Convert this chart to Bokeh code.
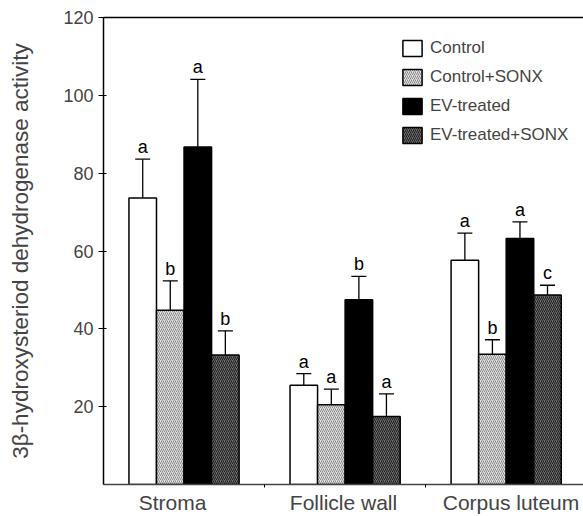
from bokeh.plotting import figure
from bokeh.models import (ColumnDataSource, FixedTicker, LinearAxis, Whisker, TeeHead,
                          Legend, LegendItem, Range1d)
from bokeh.core.properties import value
from bokeh.embed import file_html
from bokeh.resources import INLINE

groups = ["Stroma", "Follicle wall", "Corpus luteum"]
series = ["Control", "Control+SONX", "EV-treated", "EV-treated+SONX"]

control = [73.6, 25.5, 57.6]
control_sonx = [44.8, 20.5, 33.5]
ev_treated = [86.7, 47.5, 63.2]
ev_treated_sonx = [33.3, 17.5, 48.7]

control_err = [10.0, 3.0, 7.0]
control_sonx_err = [7.5, 4.0, 3.7]
ev_treated_err = [17.4, 6.0, 4.3]
ev_treated_sonx_err = [6.2, 5.8, 2.5]

control_sig = ["a", "a", "a"]
control_sonx_sig = ["b", "a", "b"]
ev_treated_sig = ["a", "b", "a"]
ev_treated_sonx_sig = ["b", "a", "c"]

y_ticks = [20, 40, 60, 80, 100, 120]

FONT = "Liberation Sans"

means = [control, control_sonx, ev_treated, ev_treated_sonx]
errs = [control_err, control_sonx_err, ev_treated_err, ev_treated_sonx_err]
sigs = [control_sig, control_sonx_sig, ev_treated_sig, ev_treated_sonx_sig]
styles = [
    dict(fill_color="white", hatch_pattern=None, hatch_color=None),
    dict(fill_color="#e2e2e2", hatch_pattern="/", hatch_color="#8a8a8a"),
    dict(fill_color="black", hatch_pattern=None, hatch_color=None),
    dict(fill_color="#6a6a6a", hatch_pattern="/", hatch_color="#1e1e1e"),
]

p = figure(width=583, height=516, output_backend="svg", toolbar_location=None,
           x_range=Range1d(0.5, 3.48), y_range=Range1d(0, 120),
           min_border_left=103, min_border_right=0, min_border_top=17, min_border_bottom=30)
p.outline_line_color = None
p.grid.visible = False
p.background_fill_color = "white"

w = 0.171
centers = [1, 2, 3]
items = []
for i, name in enumerate(series):
    off = (i - 1.5) * w
    xs = [c + off for c in centers]
    uppers = [m + e for m, e in zip(means[i], errs[i])]
    src = ColumnDataSource(dict(x=xs, top=means[i], upper=uppers, sig=sigs[i]))
    st = styles[i]
    kw = dict(fill_color=st["fill_color"], line_color="black", line_width=1.5)
    if st["hatch_pattern"]:
        kw.update(hatch_pattern=st["hatch_pattern"], hatch_color=st["hatch_color"],
                  hatch_scale=4, hatch_weight=1)
    wh = Whisker(source=src, base="x", lower="top", upper="upper", line_width=1.3,
                 line_color="black",
                 upper_head=TeeHead(size=15, line_width=1.3, line_color="black"),
                 lower_head=None)
    p.add_layout(wh)
    r = p.vbar(x="x", top="top", width=w, bottom=0, source=src, **kw)
    p.text(x="x", y="upper", text="sig", source=src, text_align="center",
           text_baseline="bottom", y_offset=-2, text_font=value(FONT),
           text_font_size="18px", text_color="black")
    items.append(LegendItem(label=name, renderers=[r]))

legend = Legend(items=items, location=(297, 339), padding=0, margin=0,
                glyph_width=24, glyph_height=20, label_height=20, spacing=9,
                label_standoff=6,
                label_text_font=FONT, label_text_font_size="17px",
                border_line_color=None, background_fill_alpha=0)
p.add_layout(legend)

# axes
p.yaxis.ticker = FixedTicker(ticks=y_ticks, minor_ticks=[])
p.yaxis.axis_label = "3β-hydroxysteriod dehydrogenase activity"
p.yaxis.axis_label_text_font = FONT
p.yaxis.axis_label_text_font_style = "normal"
p.yaxis.axis_label_text_font_size = "22.5px"
p.yaxis.axis_label_standoff = 27
p.yaxis.major_label_text_font = FONT
p.yaxis.major_label_text_font_size = "18px"
p.yaxis.major_tick_in = 3
p.yaxis.major_tick_out = 5
p.yaxis.major_label_standoff = 5
p.yaxis.axis_line_width = 1.5
p.yaxis.major_tick_line_width = 1.2

label_pos = [0.929, 1.99, 3.03]
p.xaxis.ticker = FixedTicker(ticks=label_pos, minor_ticks=[1.5, 2.5])
p.xaxis.major_label_overrides = {pos: g for pos, g in zip(label_pos, groups)}
p.xaxis.major_tick_line_color = None
p.xaxis.major_tick_in = 0
p.xaxis.major_tick_out = 0
p.xaxis.minor_tick_in = 0
p.xaxis.minor_tick_out = 3
p.xaxis.major_label_standoff = 3
p.xaxis.major_label_text_font = FONT
p.xaxis.major_label_text_font_size = "21px"
p.xaxis.axis_line_width = 1.5
p.xaxis.axis_line_color = "#444444"

top_axis = LinearAxis(ticker=FixedTicker(ticks=[]), major_label_text_font_size="0px",
                      axis_line_width=1.5, major_tick_line_color=None,
                      minor_tick_line_color=None)
p.add_layout(top_axis, "above")

open("out.html", "w").write(file_html(p, INLINE))
